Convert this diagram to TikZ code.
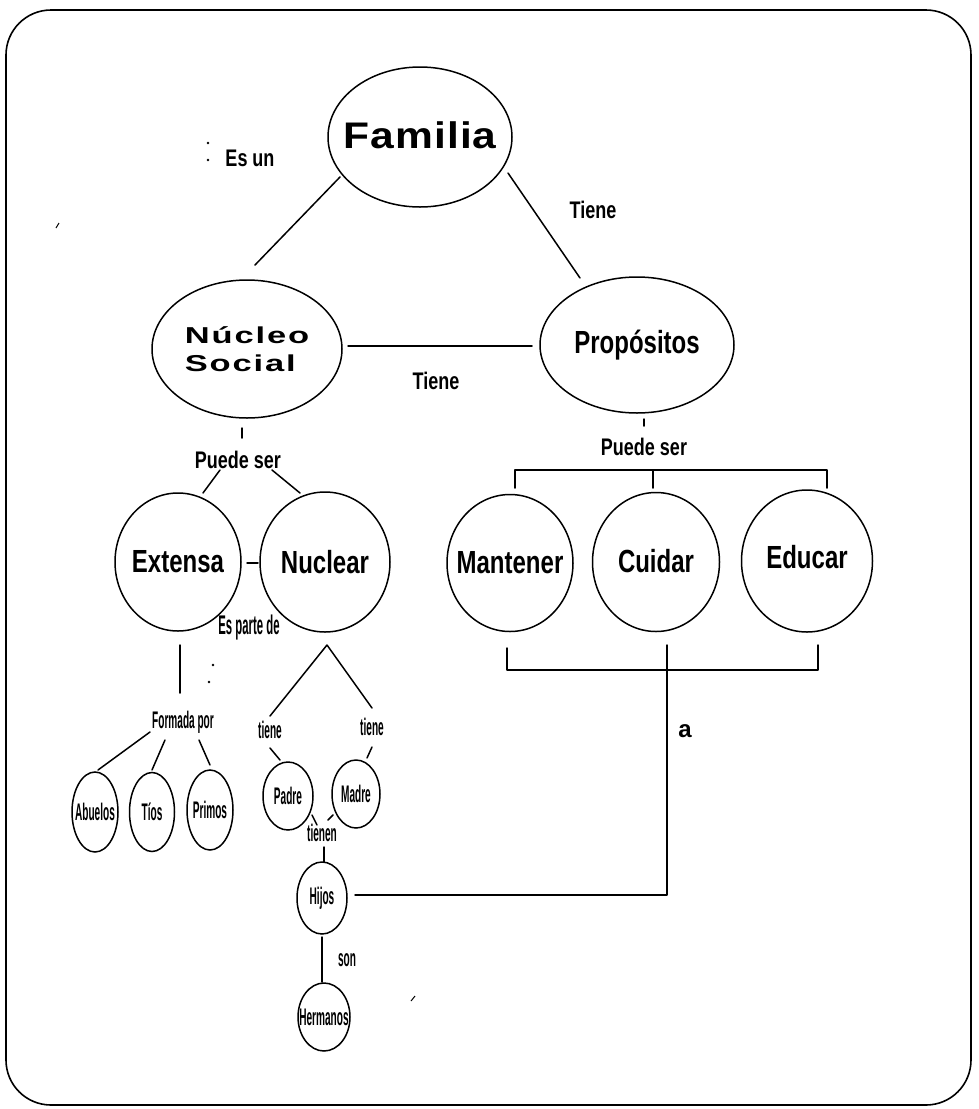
\documentclass[tikz,border=0pt]{standalone}
\usepackage{fontspec}
\setmainfont{Liberation Sans}
\newfontfamily\famfont{Liberation Sans}[FakeStretch=1.15,LetterSpace=3]
\newfontfamily\nucfont{Liberation Sans}[FakeStretch=1.5,LetterSpace=8]
\newfontfamily\condfont{Liberation Sans}[FakeStretch=0.75]
\newfontfamily\narrowfont{Liberation Sans}[FakeStretch=0.42]
\usetikzlibrary{shapes.geometric}
\newcommand\mbx[1]{\makebox[0pt]{#1}}
\tikzset{
  conc/.style={draw, ellipse, line width=1.5pt, inner sep=0pt},
  bigtxt/.style={font=\condfont\bfseries\fontsize{32}{32}\selectfont},
  lab/.style={font=\condfont\bfseries\fontsize{24}{24}\selectfont, inner sep=0pt},
  smalltxt/.style={font=\narrowfont\bfseries\fontsize{24}{24}\selectfont, inner sep=0pt},
  link/.style={line width=1.5pt, line cap=round, line join=round},
  speck/.style={fill=black}
}
\begin{document}
\begin{tikzpicture}[x=1pt, y=-1pt]
\useasboundingbox (0,0) rectangle (978,1109);
% outer frame
\draw[line width=1.6pt, rounded corners=45pt] (6,10) rectangle (971,1105);

% concept ellipses
\node[conc, minimum width=184, minimum height=140,
      font=\famfont\bfseries\fontsize{37}{37}\selectfont] (fam) at (420,137) {\raisebox{4pt}{\mbx{Familia}}};
\node[conc, minimum width=190, minimum height=138, align=left,
      font=\nucfont\bfseries\fontsize{23}{28}\selectfont] (nuc) at (247,349) {Núcleo\\Social};
\node[conc, bigtxt, minimum width=194, minimum height=136] (prop) at (637,345) {\mbx{Propósitos}};
\node[conc, bigtxt, minimum width=126, minimum height=138] (ext) at (178,562) {\mbx{Extensa}};
\node[conc, bigtxt, minimum width=130, minimum height=140] (ncl) at (325,562) {\mbx{Nuclear}};
\node[conc, bigtxt, minimum width=126, minimum height=137] (man) at (510,563) {\mbx{Mantener}};
\node[conc, bigtxt, minimum width=127, minimum height=139] (cui) at (656,562) {\raisebox{3pt}{\mbx{Cuidar}}};
\node[conc, bigtxt, minimum width=131, minimum height=142] (edu) at (807,561) {\raisebox{8pt}{\mbx{Educar}}};
\node[conc, smalltxt, minimum width=46, minimum height=80] (abu) at (95,812) {\mbx{Abuelos}};
\node[conc, smalltxt, minimum width=45, minimum height=79] (tio) at (152,812) {\mbx{Tíos}};
\node[conc, smalltxt, minimum width=46, minimum height=80] (pri) at (210,810) {\mbx{Primos}};
\node[conc, smalltxt, minimum width=50, minimum height=68] (pad) at (288,796) {\mbx{Padre}};
\node[conc, smalltxt, minimum width=48, minimum height=68] (mad) at (356,794) {\mbx{Madre}};
\node[conc, smalltxt, minimum width=50, minimum height=72] (hij) at (322,898) {\mbx{Hijos}};
\node[conc, smalltxt, minimum width=52, minimum height=68] (her) at (324,1017) {\mbx{Hermanos}};

% link labels
\node[lab] (lesun) at (250,158) {Es un};
\node[lab] (ltiene1) at (593,210) {Tiene};
\node[lab] (ltiene2) at (436,381) {Tiene};
\node[lab] (lpuede1) at (238,460) {Puede ser};
\node[lab] (lpuede2) at (644,447) {Puede ser};
\node[smalltxt, font=\narrowfont\bfseries\fontsize{27}{27}\selectfont] (lparte) at (249,628) {Es parte de};
\node[smalltxt] (lformada) at (183,722) {Formada por};
\node[smalltxt] (ltieneP) at (270,730) {tiene};
\node[smalltxt] (ltieneM) at (372,727) {tiene};
\node[smalltxt] (ltienen) at (322,833) {tienen};
\node[smalltxt] (lson) at (347,960) {son};
\node[font=\bfseries\fontsize{24}{24}\selectfont, inner sep=0pt] (la) at (685,731) {a};

% connector end points
\coordinate (f1) at (340,177);  \coordinate (f2) at (255,265);
\coordinate (f3) at (508,173);  \coordinate (f4) at (580,278);
\coordinate (n1) at (348,346);  \coordinate (n2) at (532,346);
\coordinate (t1) at (242,428);  \coordinate (t2) at (242,438);
\coordinate (p1) at (220,470);  \coordinate (p2) at (203,493);
\coordinate (p3) at (272,470);  \coordinate (p4) at (300,493);
\coordinate (d1) at (247,563);  \coordinate (d2) at (258,563);
\coordinate (e1) at (180,645);  \coordinate (e2) at (180,693);
\coordinate (a1) at (150,732);  \coordinate (a2) at (98,770);
\coordinate (b1) at (165,740);  \coordinate (b2) at (152,770);
\coordinate (c1) at (199,740);  \coordinate (c2) at (210,765);
\coordinate (apex) at (327,645);
\coordinate (k1) at (270,716);  \coordinate (k2) at (372,708);
\coordinate (k3) at (270,748);  \coordinate (k4) at (280,760);
\coordinate (k5) at (372,747);  \coordinate (k6) at (367,758);
\coordinate (m1) at (312,815);  \coordinate (m2) at (317,825);
\coordinate (m3) at (333,815);  \coordinate (m4) at (328,820);
\coordinate (h1) at (324,847);  \coordinate (h2) at (324,862);
\coordinate (h3) at (322,937);  \coordinate (h4) at (322,982);
\coordinate (h5) at (355,895);  \coordinate (h6) at (667,895);
\coordinate (h7) at (667,645);
\coordinate (r1) at (644,419);  \coordinate (r2) at (644,426);

% connectors
\draw[link] (f1) -- (f2);
\draw[link] (f3) -- (f4);
\draw[link] (n1) -- (n2);
\draw[link] (t1) -- (t2);
\draw[link] (p1) -- (p2);
\draw[link] (p3) -- (p4);
\draw[link] (d1) -- (d2);
\draw[link] (e1) -- (e2);
\draw[link] (a1) -- (a2);
\draw[link] (b1) -- (b2);
\draw[link] (c1) -- (c2);
\draw[link] (k1) -- (apex) -- (k2);
\draw[link] (k3) -- (k4);
\draw[link] (k5) -- (k6);
\draw[link] (m1) -- (m2);
\draw[link] (m3) -- (m4);
\draw[link] (h1) -- (h2);
\draw[link] (h3) -- (h4);
\draw[link] (h5) -- (h6) -- (h7);
\draw[link] (r1) -- (r2);
% brackets grouping the purposes
\draw[link] (515,488) -- (515,470) -- (827,470) -- (827,488);
\draw[link] (653,470) -- (653,488);
\draw[link] (507,648) -- (507,670) -- (818,670) -- (818,645);

% specks
\fill[speck] (208,143) circle (1.3);
\fill[speck] (208,160) circle (1.3);
\fill[speck] (213,665) circle (1.3);
\fill[speck] (209,682) circle (1.3);
\draw[line width=1pt] (56,228) -- (59,223);
\draw[line width=1pt] (411,1001) -- (415,996);
\end{tikzpicture}
\end{document}
